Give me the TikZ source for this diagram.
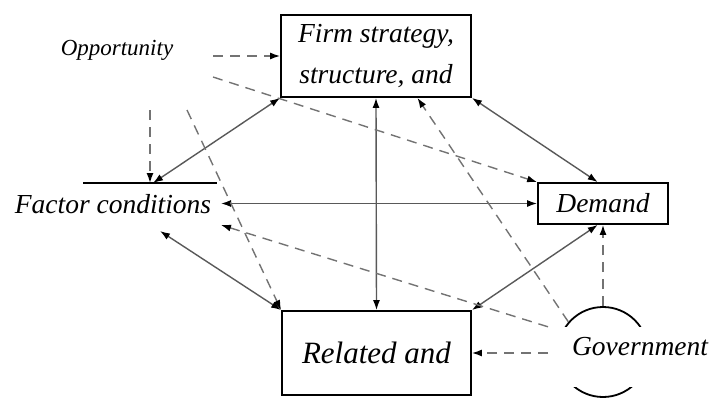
\documentclass[tikz,border=0pt]{standalone}
\usepackage{fontspec}
\setmainfont{Liberation Serif}[ItalicFont={Liberation Serif Italic}]
\usetikzlibrary{arrows.meta,calc}
\begin{document}
\begin{tikzpicture}[x=1pt,y=-1pt,
  box/.style={draw=black,line width=1.8pt,inner sep=0pt,font=\itshape\fontsize{27.5}{41}\selectfont,align=center},
  lbl/.style={inner sep=0pt,font=\itshape\fontsize{27.5}{30}\selectfont},
  conn/.style={draw=black!65,line width=1.4pt,{Latex[length=10pt,width=7pt,black]}-{Latex[length=10pt,width=7pt,black]}},
  dconn/.style={draw=black!55,line width=1.4pt,dash pattern=on 10pt off 7pt,-{Latex[length=10pt,width=7pt,black]}},
]
\useasboundingbox (0,0) rectangle (713,399);

% nodes
\node[box,minimum width=190pt,minimum height=82pt] (firm) at (376,56) {Firm strategy,\\structure, and};
\node[box,minimum width=130pt,minimum height=41pt] (demand) at (603,203.5) {Demand};
\node[box,minimum width=189pt,minimum height=84pt,font=\itshape\fontsize{31}{36}\selectfont] (related) at (376.5,353) {Related and};
\node[lbl] (factor) at (113,204) {Factor conditions};
\node[lbl,font=\itshape\fontsize{23}{26}\selectfont] (opp) at (117,50) {Opportunity};
\node[draw=black,line width=1.8pt,circle,minimum size=90pt,inner sep=0pt] (gov) at (603,352) {};
\node[fill=white,minimum width=165pt,minimum height=60pt,inner sep=0pt,anchor=west] (govbox) at (548,357) {};
\node[lbl] (govtext) at (640,347) {Government};

% helper coordinates
\coordinate (fl) at (83,183);
\coordinate (fr) at (217,183);
\coordinate (fa1) at (153,183);
\coordinate (fa2) at (221,203.5);
\coordinate (fa3) at (221,225);
\coordinate (fa4) at (160,231);
\coordinate (o1) at (213,56);
\coordinate (o2) at (213,77);
\coordinate (o3) at (150,110);
\coordinate (o4) at (187,110);

\draw[line width=1.6pt] (fl) -- (fr);

% solid two-way connectors
\draw[conn] (firm.south west) -- (fa1);
\draw[conn] (firm.south east) -- ($(demand.north west)!0.46!(demand.north east)$);
\draw[conn] (firm.south) -- (related.north);
\draw[conn] (fa2) -- (demand.west);
\draw[conn] (fa4) -- (related.north west);
\draw[conn] ($(demand.south west)!0.46!(demand.south east)$) -- (related.north east);

% dashed influences
\draw[dconn] (o1) -- (firm.west |- o1);
\draw[dconn] (o2) -- (demand.north west);
\draw[dconn] (o3) -- (o3 |- fl);
\draw[dconn] (o4) -- (related.north west);
\draw[dconn] (gov.139) -- ($(firm.south west)!0.716!(firm.south east)$);
\draw[dconn] (govbox.north west) -- (fa3);
\draw[dconn] (gov.north) -- (gov.north |- demand.south);
\draw[dconn] (govbox.west |- related.east) -- (related.east);
\end{tikzpicture}
\end{document}
